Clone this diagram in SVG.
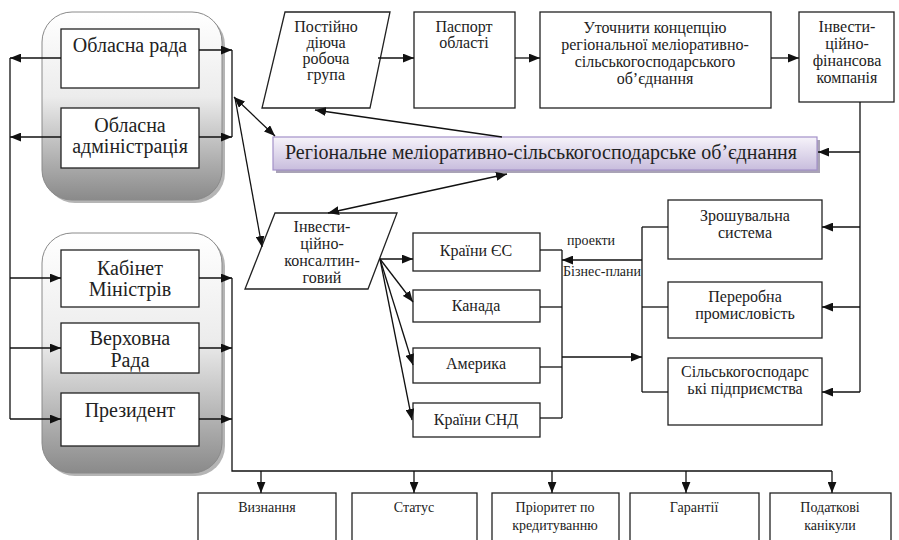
<svg xmlns="http://www.w3.org/2000/svg" width="899" height="540" viewBox="0 0 899 540" font-family="'Liberation Serif', 'DejaVu Serif', serif">
<style>
.box{fill:#fff;stroke:#222;stroke-width:1.3}
.ln{fill:none;stroke:#111;stroke-width:1.3}
.a{marker-end:url(#ah)}
.d{marker-start:url(#ah);marker-end:url(#ah)}
text{font-family:'Liberation Serif','DejaVu Serif',serif;fill:#222;text-anchor:middle}
.t20{font-size:20px}
.t16{font-size:16px}
.t14{font-size:14px}
.lbl{font-size:14px;text-anchor:start}
</style>
<defs>
<marker id="ah" viewBox="0 0 10 8" refX="10" refY="4" markerWidth="11" markerHeight="9" markerUnits="userSpaceOnUse" orient="auto-start-reverse">
<path d="M0,0 L10,4 L0,8 Z" fill="#111"/>
</marker>
<linearGradient id="gray" x1="0" y1="0" x2="0" y2="1">
<stop offset="0" stop-color="#ffffff"/>
<stop offset="0.45" stop-color="#ececec"/>
<stop offset="1" stop-color="#8a8a8a"/>
</linearGradient>
<linearGradient id="purp" x1="0" y1="0" x2="0" y2="1">
<stop offset="0" stop-color="#f6f3fa"/>
<stop offset="1" stop-color="#c8bddd"/>
</linearGradient>
</defs>

<g id="regional-group">
<rect x="45" y="15" width="180" height="188" rx="30" fill="#b5b5b5"/>
<rect x="42" y="12" width="180" height="188" rx="30" fill="url(#gray)" stroke="#8a8a8a" stroke-width="1"/>
</g>
<g id="national-group">
<rect x="45" y="236" width="180" height="240" rx="30" fill="#b5b5b5"/>
<rect x="42" y="233" width="180" height="240" rx="30" fill="url(#gray)" stroke="#8a8a8a" stroke-width="1"/>
</g>

<g id="oblasna-rada"><rect class="box" x="61" y="29" width="138" height="59"/><text class="t20" x="130" y="52">Обласна рада</text></g>
<g id="oblasna-admin"><rect class="box" x="61" y="108" width="138" height="60"/><text class="t20" x="130" y="132">Обласна</text><text class="t20" x="130" y="153">адміністрація</text></g>
<g id="kabinet"><rect class="box" x="61" y="250" width="138" height="57"/><text class="t20" x="130" y="275">Кабінет</text><text class="t20" x="130" y="296">Міністрів</text></g>
<g id="verkhovna"><rect class="box" x="61" y="323" width="138" height="50"/><text class="t20" x="130" y="345">Верховна</text><text class="t20" x="130" y="367">Рада</text></g>
<g id="president"><rect class="box" x="61" y="393" width="138" height="53"/><text class="t20" x="130" y="417">Президент</text></g>

<g id="postiino"><path class="box" d="M285,12 L390,12 L370,108 L262,108 Z"/><text class="t16" x="326" y="32">Постійно</text><text class="t16" x="326" y="48">діюча</text><text class="t16" x="326" y="64">робоча</text><text class="t16" x="326" y="80">група</text></g>
<g id="pasport"><rect class="box" x="414" y="12" width="101" height="96"/><text class="t16" x="464" y="32">Паспорт</text><text class="t16" x="464" y="48">області</text></g>
<g id="utochnyty"><rect class="box" x="540" y="12" width="231" height="96"/><text class="t16" x="655" y="33">Уточнити концепцію</text><text class="t16" x="655" y="50">регіональної меліоративно-</text><text class="t16" x="655" y="67">сільськогосподарського</text><text class="t16" x="655" y="84">об’єднання</text></g>
<g id="invest-fin"><rect class="box" x="799" y="12" width="95" height="90"/><text class="t16" x="847" y="32">Інвести-</text><text class="t16" x="847" y="49">ційно-</text><text class="t16" x="847" y="66">фінансова</text><text class="t16" x="847" y="83">компанія</text></g>

<g id="regional-union">
<rect x="276" y="140" width="544" height="33" fill="#a9a3b6"/>
<rect x="273" y="137" width="544" height="33" fill="url(#purp)" stroke="#a391c8" stroke-width="1.2"/>
<text class="t20" x="541" y="159">Регіональне меліоративно-сільськогосподарське об’єднання</text>
</g>

<g id="invest-consult"><path class="box" d="M275,213 L397,213 L368,289 L245,289 Z"/><text class="t16" x="322" y="232">Інвести-</text><text class="t16" x="322" y="249">ційно-</text><text class="t16" x="322" y="266">консалтин-</text><text class="t16" x="322" y="283">говий</text></g>

<g id="eu"><rect class="box" x="413" y="233" width="127" height="38"/><text class="t16" x="476" y="256">Країни ЄС</text></g>
<g id="canada"><rect class="box" x="413" y="290" width="127" height="32"/><text class="t16" x="476" y="311">Канада</text></g>
<g id="america"><rect class="box" x="413" y="348" width="127" height="35"/><text class="t16" x="476" y="369">Америка</text></g>
<g id="cis"><rect class="box" x="413" y="403" width="127" height="34"/><text class="t16" x="476" y="425">Країни СНД</text></g>

<g id="irrigation"><rect class="box" x="668" y="200" width="154" height="59"/><text class="t16" x="745" y="221">Зрошувальна</text><text class="t16" x="745" y="238">система</text></g>
<g id="processing"><rect class="box" x="668" y="282" width="154" height="56"/><text class="t16" x="745" y="302">Переробна</text><text class="t16" x="745" y="319">промисловість</text></g>
<g id="agri"><rect class="box" x="668" y="358" width="154" height="67"/><text class="t16" x="745" y="377">Сільськогосподарс</text><text class="t16" x="745" y="394">ькі підприємства</text></g>

<g id="recognition"><rect class="box" x="198" y="493" width="138" height="60"/><text class="t14" x="267" y="512">Визнання</text></g>
<g id="status"><rect class="box" x="352" y="493" width="125" height="60"/><text class="t14" x="414" y="512">Статус</text></g>
<g id="priority"><rect class="box" x="492" y="493" width="127" height="60"/><text class="t14" x="555" y="512">Пріоритет по</text><text class="t14" x="555" y="530">кредитуванню</text></g>
<g id="guarantees"><rect class="box" x="630" y="493" width="129" height="60"/><text class="t14" x="694" y="512">Гарантії</text></g>
<g id="tax"><rect class="box" x="770" y="493" width="121" height="60"/><text class="t14" x="830" y="512">Податкові</text><text class="t14" x="830" y="530">канікули</text></g>

<g id="connectors">
<line class="ln a" x1="199" y1="50" x2="232" y2="50"/>
<line class="ln a" x1="199" y1="137" x2="232" y2="137"/>
<line class="ln" x1="232" y1="50" x2="232" y2="137"/>
<line class="ln a" x1="61" y1="58" x2="10" y2="58"/>
<line class="ln a" x1="61" y1="137" x2="10" y2="137"/>
<line class="ln" x1="10" y1="58" x2="10" y2="419"/>
<line class="ln a" x1="10" y1="278" x2="61" y2="278"/>
<line class="ln a" x1="10" y1="348" x2="61" y2="348"/>
<line class="ln a" x1="10" y1="419" x2="61" y2="419"/>
<line class="ln a" x1="199" y1="278" x2="232" y2="278"/>
<line class="ln a" x1="199" y1="348" x2="232" y2="348"/>
<line class="ln a" x1="199" y1="419" x2="232" y2="419"/>
<polyline class="ln" points="232,278 232,471 832,471"/>
<line class="ln a" x1="261" y1="471" x2="261" y2="493"/>
<line class="ln a" x1="414" y1="471" x2="414" y2="493"/>
<line class="ln a" x1="552" y1="471" x2="552" y2="493"/>
<line class="ln a" x1="686" y1="471" x2="686" y2="493"/>
<line class="ln a" x1="832" y1="471" x2="832" y2="493"/>
<line class="ln d" x1="234" y1="97" x2="275" y2="136"/>
<line class="ln a" x1="235" y1="98" x2="262" y2="247"/>
<line class="ln a" x1="502" y1="137" x2="315" y2="110"/>
<line class="ln d" x1="507" y1="174" x2="328" y2="213"/>
<line class="ln a" x1="378" y1="58" x2="414" y2="58"/>
<line class="ln a" x1="515" y1="58" x2="540" y2="58"/>
<line class="ln a" x1="771" y1="58" x2="799" y2="58"/>
<line class="ln" x1="860" y1="102" x2="860" y2="392"/>
<line class="ln a" x1="860" y1="152" x2="818" y2="152"/>
<line class="ln a" x1="860" y1="227" x2="822" y2="227"/>
<line class="ln a" x1="860" y1="307" x2="822" y2="307"/>
<line class="ln a" x1="860" y1="392" x2="822" y2="392"/>
<line class="ln a" x1="380" y1="259" x2="413" y2="259"/>
<line class="ln a" x1="380" y1="259" x2="413" y2="302"/>
<line class="ln a" x1="380" y1="259" x2="413" y2="365"/>
<line class="ln a" x1="380" y1="259" x2="412" y2="420"/>
<line class="ln" x1="540" y1="250" x2="562" y2="250"/>
<line class="ln" x1="540" y1="307" x2="562" y2="307"/>
<line class="ln" x1="540" y1="367" x2="562" y2="367"/>
<line class="ln" x1="540" y1="418" x2="562" y2="418"/>
<line class="ln" x1="562" y1="250" x2="562" y2="418"/>
<line class="ln a" x1="642" y1="260" x2="562" y2="260"/>
<line class="ln a" x1="562" y1="357" x2="642" y2="357"/>
<line class="ln" x1="642" y1="227" x2="642" y2="392"/>
<line class="ln" x1="642" y1="227" x2="668" y2="227"/>
<line class="ln" x1="642" y1="307" x2="668" y2="307"/>
<line class="ln" x1="642" y1="392" x2="668" y2="392"/>
<text class="lbl" x="567" y="245">проекти</text>
<text class="lbl" x="563" y="276">Бізнес-плани</text>
</g>
</svg>
